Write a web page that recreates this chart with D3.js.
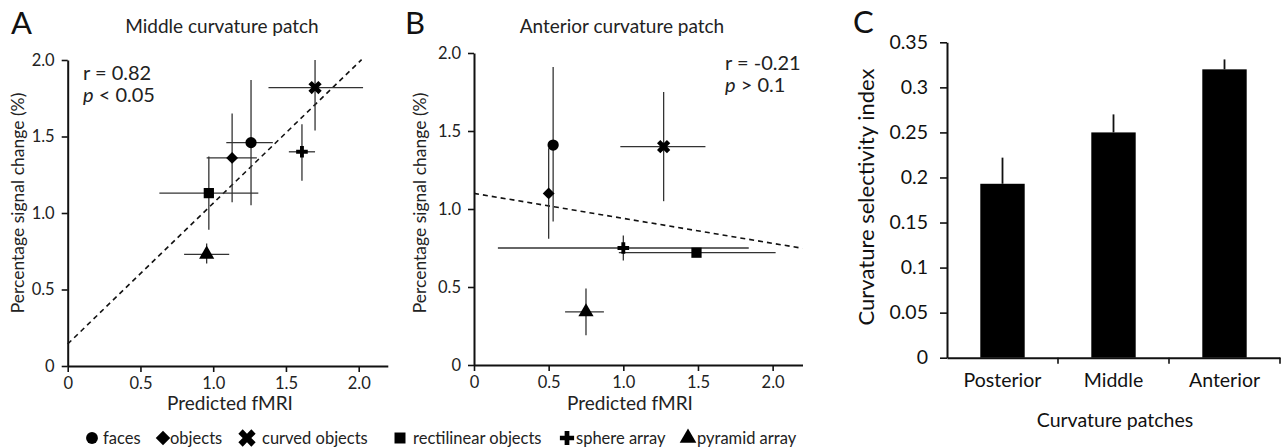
<!DOCTYPE html>
<html>
<head>
<meta charset="utf-8">
<script src="https://cdn.jsdelivr.net/npm/d3@7"></script>
<style>
  body { margin: 0; background: #fff; }
  svg { display: block; font-family: Lato, "Open Sans", sans-serif; }
</style>
</head>
<body>
<svg id="fig" width="1281" height="447"></svg>
<script>
// stimulus categories (shared legend)
var categories = ["faces", "objects", "curved objects", "rectilinear objects", "sphere array", "pyramid array"];

// panel A - middle curvature patch
var middleX    = [1.26, 1.13, 1.70, 0.97, 1.61, 0.955];
var middleY    = [1.46, 1.36, 1.82, 1.13, 1.40, 0.73];
var middleXLo  = [1.09, 0.955, 1.38, 0.63, 1.52, 0.80];
var middleXHi  = [1.41, 1.30, 2.03, 1.31, 1.70, 1.11];
var middleYLo  = [1.05, 1.07, 1.54, 0.89, 1.21, 0.67];
var middleYHi  = [1.87, 1.65, 2.00, 1.37, 1.58, 0.80];
var middleFit  = [0.144, 0.92];   // intercept, slope
var middleFitEnd = 2.02;

// panel B - anterior curvature patch
var anteriorX   = [0.53, 0.50, 1.27, 1.49, 1.00, 0.75];
var anteriorY   = [1.41, 1.10, 1.40, 0.72, 0.75, 0.34];
var anteriorXLo = [0.53, 0.50, 0.98, 0.97, 0.16, 0.61];
var anteriorXHi = [0.53, 0.50, 1.55, 2.02, 1.84, 0.87];
var anteriorYLo = [0.92, 0.81, 1.05, 0.72, 0.67, 0.19];
var anteriorYHi = [1.91, 1.39, 1.75, 0.72, 0.83, 0.49];
var anteriorFit = [1.10, -0.16];
var anteriorFitEnd = 2.2;

// panel C - selectivity index per patch
var patches  = ["Posterior", "Middle", "Anterior"];
var csi      = [0.193, 0.250, 0.320];
var csiErr   = [0.029, 0.020, 0.011];

var scatterTicks = [0, 0.5, 1.0, 1.5, 2.0];
var scatterTickLabels = ["0", "0.5", "1.0", "1.5", "2.0"];
var barTicks = [0, 0.05, 0.1, 0.15, 0.2, 0.25, 0.3, 0.35];
var barTickLabels = ["0", "0.05", "0.1", "0.15", "0.2", "0.25", "0.3", "0.35"];

var svg = d3.select("#fig");

// marker shapes, one per category
function markerPath(i, size) {
  var types = [d3.symbolCircle, d3.symbolSquare, d3.symbolCross, d3.symbolSquare, d3.symbolCross, d3.symbolTriangle];
  var sizes = [1.0, 0.7, 1.1, 1.05, 0.75, 1.0];
  return d3.symbol().type(types[i]).size(size * sizes[i])();
}
function markerRot(i) {
  return (i === 1 || i === 2) ? 45 : 0;
}

function scatterPanel(opt) {
  var x = d3.scaleLinear().domain([0, 2.2]).range([opt.x0, opt.x1]);
  var y = d3.scaleLinear().domain([0, 2]).range([opt.y0, opt.y1]);
  var g = svg.append("g");

  var pts = categories.map(function(c, i) {
    return {i: i, x: opt.xs[i], y: opt.ys[i], xlo: opt.xlo[i], xhi: opt.xhi[i], ylo: opt.ylo[i], yhi: opt.yhi[i]};
  });

  // fit line
  g.append("line")
    .attr("x1", x(0)).attr("y1", y(opt.fit[0]))
    .attr("x2", x(opt.fitEnd)).attr("y2", y(opt.fit[0] + opt.fit[1] * opt.fitEnd))
    .attr("stroke", "#111").attr("stroke-width", 1.6).attr("stroke-dasharray", "5,4");

  // error bars
  var eb = g.append("g").attr("stroke", "#333").attr("stroke-width", 1.3);
  eb.selectAll(".h").data(pts).enter().append("line")
    .attr("x1", function(d) { return x(d.xlo); }).attr("x2", function(d) { return x(d.xhi); })
    .attr("y1", function(d) { return y(d.y); }).attr("y2", function(d) { return y(d.y); });
  eb.selectAll(".v").data(pts).enter().append("line")
    .attr("x1", function(d) { return x(d.x); }).attr("x2", function(d) { return x(d.x); })
    .attr("y1", function(d) { return y(d.ylo); }).attr("y2", function(d) { return y(d.yhi); });

  g.selectAll("path.mk").data(pts).enter().append("path")
    .attr("class", "mk")
    .attr("d", function(d) { return markerPath(d.i, 100); })
    .attr("transform", function(d) { return "translate(" + x(d.x) + "," + y(d.y) + ") rotate(" + markerRot(d.i) + ")"; })
    .attr("fill", "#000");

  // axes
  var ax = g.append("g").attr("transform", "translate(0," + opt.y0 + ")")
    .call(d3.axisBottom(x).tickValues(scatterTicks).tickFormat(function(d, i) { return scatterTickLabels[i]; }).tickSize(6).tickSizeOuter(0));
  var ay = g.append("g").attr("transform", "translate(" + opt.x0 + ",0)")
    .call(d3.axisLeft(y).tickValues(scatterTicks).tickFormat(function(d, i) { return scatterTickLabels[i]; }).tickSize(6).tickPadding(7).tickSizeOuter(0));
  [ax, ay].forEach(function(a) {
    a.select(".domain").attr("stroke", "#111").attr("stroke-width", 2);
    a.selectAll(".tick line").attr("stroke", "#111").attr("stroke-width", 1.6);
    a.selectAll("text").attr("font-family", "Lato, sans-serif").attr("font-size", 16.5).attr("fill", "#222");
  });
  ax.selectAll("text").attr("dy", "0.85em");

  g.append("text").attr("x", opt.xlabX).attr("y", 410)
    .attr("text-anchor", "middle").attr("font-size", 19).attr("fill", "#222").text("Predicted fMRI");
  g.append("text").attr("transform", "translate(" + opt.ylabX + "," + opt.ylabY + ") rotate(-90)")
    .attr("text-anchor", "middle").attr("font-size", 17.5).attr("fill", "#222").text("Percentage signal change (%)");
  g.append("text").attr("x", opt.titleX).attr("y", 33)
    .attr("text-anchor", "middle").attr("font-size", 19).attr("fill", "#222").text(opt.title);
  g.append("text").attr("x", opt.letterX).attr("y", 34)
    .attr("font-size", 31).attr("fill", "#111").text(opt.letter);

  var st = g.append("text").attr("font-size", 20).attr("fill", "#222");
  st.append("tspan").attr("x", opt.statX).attr("y", opt.statY).text(opt.r);
  var p2 = st.append("tspan").attr("x", opt.statX).attr("y", opt.statY + 22);
  p2.append("tspan").attr("font-style", "italic").text("p");
  p2.append("tspan").text(opt.p);
}

scatterPanel({
  x0: 67.7, x1: 387.8, y0: 366, y1: 60,
  xs: middleX, ys: middleY, xlo: middleXLo, xhi: middleXHi, ylo: middleYLo, yhi: middleYHi,
  fit: middleFit, fitEnd: middleFitEnd,
  xlabX: 230, ylabX: 24, ylabY: 203, titleX: 222, title: "Middle curvature patch", letterX: 11, letter: "A",
  statX: 83, statY: 80, r: "r = 0.82", p: " < 0.05"
});

scatterPanel({
  x0: 474, x1: 802.5, y0: 365, y1: 53,
  xs: anteriorX, ys: anteriorY, xlo: anteriorXLo, xhi: anteriorXHi, ylo: anteriorYLo, yhi: anteriorYHi,
  fit: anteriorFit, fitEnd: anteriorFitEnd,
  xlabX: 630, ylabX: 426, ylabY: 203, titleX: 622, title: "Anterior curvature patch", letterX: 405, letter: "B",
  statX: 725, statY: 70, r: "r = -0.21", p: " > 0.1"
});

// legend
var legendX = [92, 163, 247, 400, 567, 688];
var legendTextX = [103, 170, 262, 413, 576, 697];
var legendSize = [110, 150, 170, 115, 150, 120];
var lg = svg.append("g");
categories.forEach(function(c, i) {
  lg.append("path").attr("d", markerPath(i, legendSize[i]))
    .attr("transform", "translate(" + legendX[i] + ",438) rotate(" + markerRot(i) + ")")
    .attr("fill", "#000");
  lg.append("text").attr("x", legendTextX[i]).attr("y", 443.5)
    .attr("font-size", 16.5).attr("fill", "#222").text(c);
});

// panel C bars
var cx = d3.scaleBand().domain(patches).range([947, 1280]).paddingInner(0.6).paddingOuter(0.3);
var cy = d3.scaleLinear().domain([0, 0.35]).range([357.7, 42.3]);
var gc = svg.append("g");
var bars = patches.map(function(p, i) { return {name: p, v: csi[i], e: csiErr[i]}; });

gc.selectAll("line.err").data(bars).enter().append("line")
  .attr("x1", function(d) { return cx(d.name) + cx.bandwidth() / 2; })
  .attr("x2", function(d) { return cx(d.name) + cx.bandwidth() / 2; })
  .attr("y1", function(d) { return cy(d.v); })
  .attr("y2", function(d) { return cy(d.v + d.e); })
  .attr("stroke", "#111").attr("stroke-width", 1.8);

gc.selectAll("rect").data(bars).enter().append("rect")
  .attr("x", function(d) { return cx(d.name); })
  .attr("y", function(d) { return cy(d.v); })
  .attr("width", cx.bandwidth())
  .attr("height", function(d) { return cy(0) - cy(d.v); })
  .attr("fill", "#000");

var cay = gc.append("g").attr("transform", "translate(947,0)")
  .call(d3.axisLeft(cy).tickValues(barTicks).tickFormat(function(d, i) { return barTickLabels[i]; }).tickSize(7).tickPadding(12).tickSizeOuter(0));
cay.select(".domain").attr("stroke", "#111").attr("stroke-width", 2);
cay.selectAll(".tick line").attr("stroke", "#111").attr("stroke-width", 1.6);
cay.selectAll("text").attr("font-family", "Lato, sans-serif").attr("font-size", 19.5).attr("fill", "#111");

var cax = gc.append("g").attr("transform", "translate(0," + cy(0) + ")")
  .call(d3.axisBottom(cx).tickSize(0).tickSizeOuter(0));
cax.select(".domain").attr("stroke", "#111").attr("stroke-width", 2);
cax.selectAll("text").attr("font-family", "Lato, sans-serif").attr("font-size", 19.5).attr("fill", "#111").attr("dy", "1.35em");
// Excel-style ticks between categories
var step = cx.step();
var bounds = patches.map(function(p) { return cx(p) - step * 0.3; }).concat([cx(patches[2]) + cx.bandwidth() + step * 0.3]);
gc.selectAll("line.bt").data(bounds.slice(1)).enter().append("line")
  .attr("x1", function(d) { return d; }).attr("x2", function(d) { return d; })
  .attr("y1", cy(0)).attr("y2", cy(0) + 6)
  .attr("stroke", "#111").attr("stroke-width", 1.6);

gc.append("text").attr("x", 1115).attr("y", 427).attr("text-anchor", "middle")
  .attr("font-size", 19.5).attr("fill", "#111").text("Curvature patches");
gc.append("text").attr("transform", "translate(874,197) rotate(-90)").attr("text-anchor", "middle")
  .attr("font-size", 22).attr("fill", "#111").text("Curvature selectivity index");
gc.append("text").attr("x", 853).attr("y", 33).attr("font-size", 31).attr("fill", "#111").text("C");
</script>
</body>
</html>
